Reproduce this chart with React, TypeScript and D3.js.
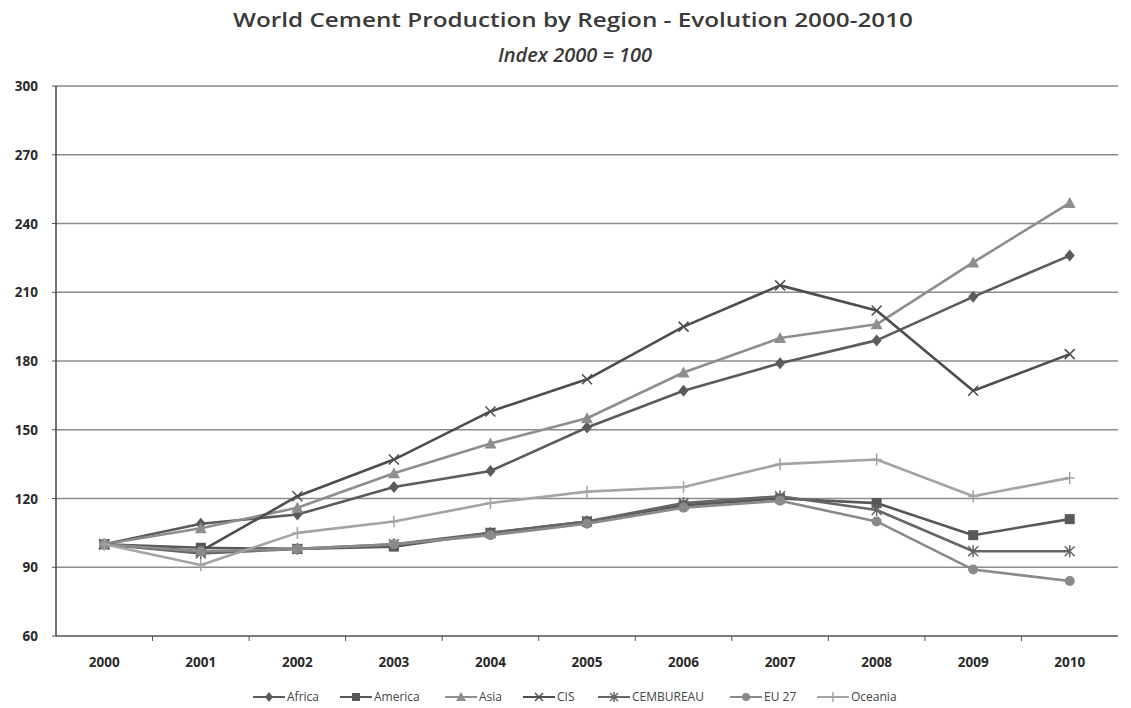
import React from "react";
import * as d3 from "d3";

const years = ["2000","2001","2002","2003","2004","2005","2006","2007","2008","2009","2010"];
const africa = [100,109,113,125,132,151,167,179,189,208,226];
const america = [100,98.5,98,99,105,110,117,120,118,104,111];
const asia = [100,107,116,131,144,155,175,190,196,223,249];
const cis = [100,97,121,137,158,172,195,213,202,167,183];
const cembureau = [100,96,98,100,105,110,118,121,115,97,97];
const eu27 = [100,97,98,100,104,109,116,119,110,89,84];
const oceania = [100,91,105,110,118,123,125,135,137,121,129];
const yTicks = [60,90,120,150,180,210,240,270,300];

const seriesNames = ["Africa","America","Asia","CIS","CEMBUREAU","EU 27","Oceania"];
const seriesValues = [africa, america, asia, cis, cembureau, eu27, oceania];
const seriesColors = ["#5b5b5b","#585858","#8e8e8e","#4e4e4e","#666666","#8a8a8a","#a4a4a4"];
const seriesMarkers = ["diamond","square","triangle","x","asterisk","circle","plus"];

const W = 1131, H = 708;
const left = 56, right = 1118, top = 86, bottom = 636;

function Marker({ type, x, y, color, s = 5 }: { type: string; x: number; y: number; color: string; s?: number }) {
  switch (type) {
    case "diamond":
      return <path d={`M${x},${y - s - 1}L${x + s},${y}L${x},${y + s + 1}L${x - s},${y}Z`} fill={color} />;
    case "square":
      return <rect x={x - s} y={y - s} width={2 * s} height={2 * s} fill={color} />;
    case "triangle":
      return <path d={`M${x},${y - s - 1}L${x + s + 1},${y + s}L${x - s - 1},${y + s}Z`} fill={color} />;
    case "circle":
      return <circle cx={x} cy={y} r={s} fill={color} />;
    case "x":
      return <path d={`M${x - s},${y - s}L${x + s},${y + s}M${x - s},${y + s}L${x + s},${y - s}`} stroke={color} strokeWidth={1.5} />;
    case "asterisk":
      return <path d={`M${x - s},${y - s}L${x + s},${y + s}M${x - s},${y + s}L${x + s},${y - s}M${x},${y - s - 1}L${x},${y + s + 1}`} stroke={color} strokeWidth={1.5} />;
    case "plus":
      return <path d={`M${x},${y - s - 1}L${x},${y + s + 1}M${x - s},${y}L${x + s},${y}`} stroke={color} strokeWidth={1.5} />;
  }
  return null;
}

export default function App() {
  const x = d3.scaleBand<string>().domain(years).range([left, right]);
  const y = d3.scaleLinear().domain([60, 300]).range([bottom, top]);
  const cx = (d: string) => (x(d) as number) + x.bandwidth() / 2;
  const line = d3.line<number>().x((_, i) => cx(years[i])).y((v) => y(v));
  const font = "'Open Sans', 'Liberation Sans', sans-serif";

  const legendX = [253, 340, 445, 523, 598, 730, 817];

  return (
    <svg width={W} height={H} style={{ position: "absolute", left: 0, top: 0, background: "#fff" }} fontFamily={font}>
      <rect x={0} y={0} width={W} height={H} fill="#fff" />
      <text x={573} y={27} textAnchor="middle" fontSize={20} fontWeight={600} fill="#3a3a3a" textLength={680} lengthAdjust="spacingAndGlyphs">
        World Cement Production by Region - Evolution 2000-2010
      </text>
      <text x={575} y={62} textAnchor="middle" fontSize={20} fontWeight={600} fontStyle="italic" fill="#3a3a3a">
        Index 2000 = 100
      </text>
      {yTicks.map((t) => (
        <g key={t}>
          {t > 60 && <line x1={left} x2={right} y1={y(t)} y2={y(t)} stroke="#8c8c8c" strokeWidth={1.5} />}
          <line x1={left - 4} x2={left} y1={y(t)} y2={y(t)} stroke="#555" strokeWidth={1} />
          <text x={38} y={y(t) + 5} textAnchor="end" fontSize={13.5} fontWeight={700} fill="#2a2a2a">{t}</text>
        </g>
      ))}
      <line x1={left} x2={left} y1={top} y2={bottom} stroke="#444" strokeWidth={1.5} />
      <line x1={left} x2={right} y1={bottom} y2={bottom} stroke="#555" strokeWidth={1.5} />
      {years.map((yr, i) => (
        <g key={yr}>
          {i > 0 && <line x1={x(yr) as number} x2={x(yr) as number} y1={bottom} y2={bottom + 5} stroke="#555" strokeWidth={1} />}
          <text x={cx(yr)} y={667} textAnchor="middle" fontSize={13.5} fontWeight={700} fill="#2a2a2a">{yr}</text>
        </g>
      ))}
      {seriesValues.map((vals, si) => (
        <g key={seriesNames[si]}>
          <path d={line(vals) || ""} fill="none" stroke={seriesColors[si]} strokeWidth={2.6} strokeLinejoin="round" />
          {vals.map((v, i) => (
            <Marker key={i} type={seriesMarkers[si]} x={cx(years[i])} y={y(v)} color={seriesColors[si]} />
          ))}
        </g>
      ))}
      {seriesNames.map((n, i) => (
        <g key={n} transform={`translate(${legendX[i]},697)`}>
          <line x1={0} x2={32} y1={0} y2={0} stroke={seriesColors[i]} strokeWidth={2} />
          <Marker type={seriesMarkers[i]} x={16} y={0} color={seriesColors[i]} s={4} />
          <text x={34} y={4} fontSize={12} fill="#444">{n}</text>
        </g>
      ))}
    </svg>
  );
}
